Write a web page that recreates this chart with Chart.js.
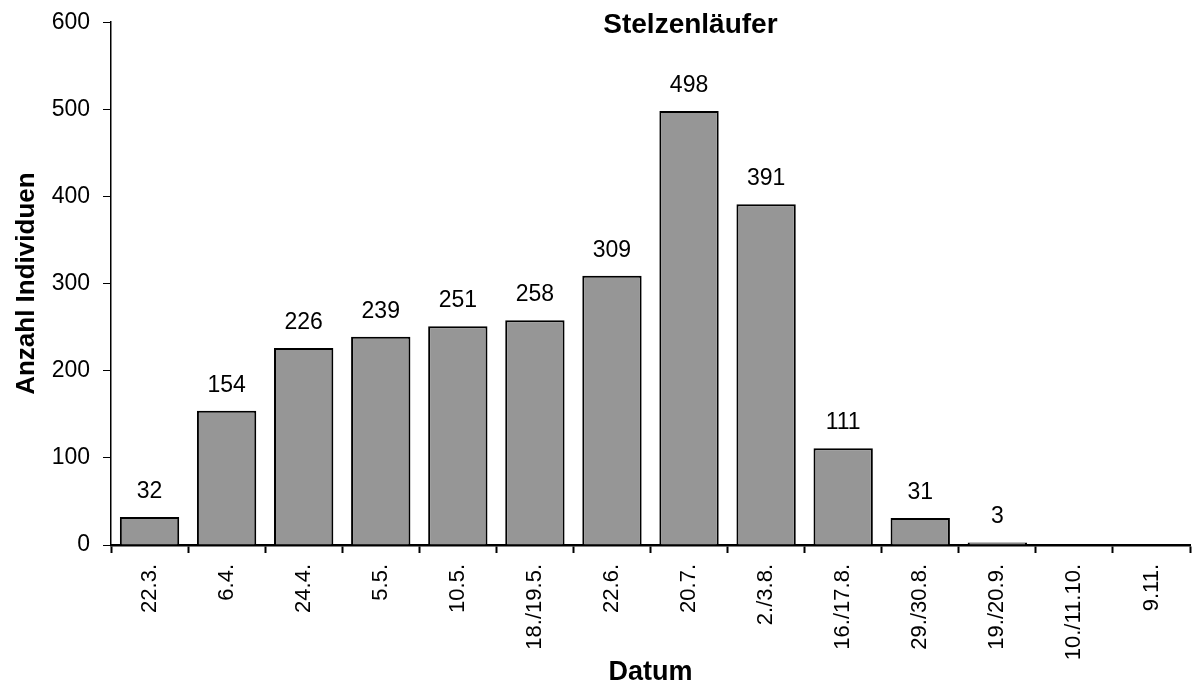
<!DOCTYPE html>
<html>
<head>
<meta charset="utf-8">
<script src="https://cdn.jsdelivr.net/npm/chart.js@4/dist/chart.umd.min.js"></script>
<style>
  html, body { margin: 0; padding: 0; background: #fff; }
  #wrap { width: 1194px; height: 689px; }
</style>
</head>
<body>
<div id="wrap"><canvas id="chart" width="1194" height="689"></canvas></div>
<script>
// Stelzenläufer counts per survey date
const dates = ['22.3.', '6.4.', '24.4.', '5.5.', '10.5.', '18./19.5.', '22.6.',
    '20.7.', '2./3.8.', '16./17.8.', '29./30.8.', '19./20.9.', '10./11.10.', '9.11.'];
const individuals = [32, 154, 226, 239, 251, 258, 309, 498, 391, 111, 31, 3, 0, 0];
const yTicks = [0, 100, 200, 300, 400, 500, 600];

const chartTitle = 'Stelzenläufer';
const FONT = 'Arial, "Liberation Sans", sans-serif';

// draws the values above each bar (zero bars get no label)
const valueLabels = {
    id: 'valueLabels',
    afterDatasetsDraw(chart) {
        const ctx = chart.ctx;
        const meta = chart.getDatasetMeta(0);
        ctx.save();
        ctx.font = '23px ' + FONT;
        ctx.fillStyle = '#000';
        ctx.textAlign = 'center';
        ctx.textBaseline = 'alphabetic';
        meta.data.forEach((bar, i) => {
            const v = individuals[i];
            if (!v) return;
            ctx.fillText(String(v), bar.x, bar.y - 19);
        });
        ctx.restore();
    }
};

// title sits inside the plot area, above the tallest bar
const topTitle = {
    id: 'topTitle',
    afterDraw(chart) {
        const ctx = chart.ctx;
        const area = chart.chartArea;
        ctx.save();
        ctx.font = 'bold 28px ' + FONT;
        ctx.fillStyle = '#000';
        ctx.textAlign = 'center';
        ctx.textBaseline = 'alphabetic';
        ctx.fillText(chartTitle, area.left + (area.right - area.left) * 0.537, area.top + 11);
        ctx.restore();
    }
};

new Chart(document.getElementById('chart'), {
    type: 'bar',
    data: {
        labels: dates,
        datasets: [{
            data: individuals,
            backgroundColor: '#969696',
            borderColor: '#000',
            borderWidth: 2,
            borderSkipped: 'bottom',
            categoryPercentage: 1,
            barPercentage: 0.77
        }]
    },
    options: {
        responsive: false,
        animation: false,
        events: [],
        layout: { padding: { top: 22, right: 4, left: 0, bottom: 0 } },
        plugins: {
            legend: { display: false },
            title: { display: false },
            tooltip: { enabled: false }
        },
        scales: {
            x: {
                grid: {
                    offset: true,
                    drawOnChartArea: false,
                    drawTicks: true,
                    tickLength: 8,
                    tickWidth: 2,
                    color: '#000'
                },
                border: { display: true, color: '#000', width: 2.5 },
                ticks: {
                    color: '#000',
                    font: { family: FONT, size: 22 },
                    minRotation: 90,
                    maxRotation: 90,
                    autoSkip: false,
                    padding: 11
                },
                title: {
                    display: true,
                    text: 'Datum',
                    color: '#000',
                    font: { family: FONT, size: 27, weight: 'bold' },
                    padding: { top: 0, bottom: 0 }
                },
                afterFit(scale) { scale.height = 144; }
            },
            y: {
                min: 0,
                max: 600,
                afterBuildTicks(scale) { scale.ticks = yTicks.map(v => ({ value: v })); },
                grid: {
                    drawOnChartArea: false,
                    drawTicks: true,
                    tickLength: 8,
                    color: '#000'
                },
                border: { display: true, color: '#000', width: 1.5 },
                ticks: {
                    color: '#000',
                    font: { family: FONT, size: 23, lineHeight: 0.8 },
                    padding: 13
                },
                title: {
                    display: true,
                    text: 'Anzahl Individuen',
                    color: '#000',
                    font: { family: FONT, size: 26, weight: 'bold' },
                    padding: { top: 11, bottom: 0 }
                },
                afterFit(scale) { scale.width = 111; }
            }
        }
    },
    plugins: [valueLabels, topTitle]
});
</script>
</body>
</html>
